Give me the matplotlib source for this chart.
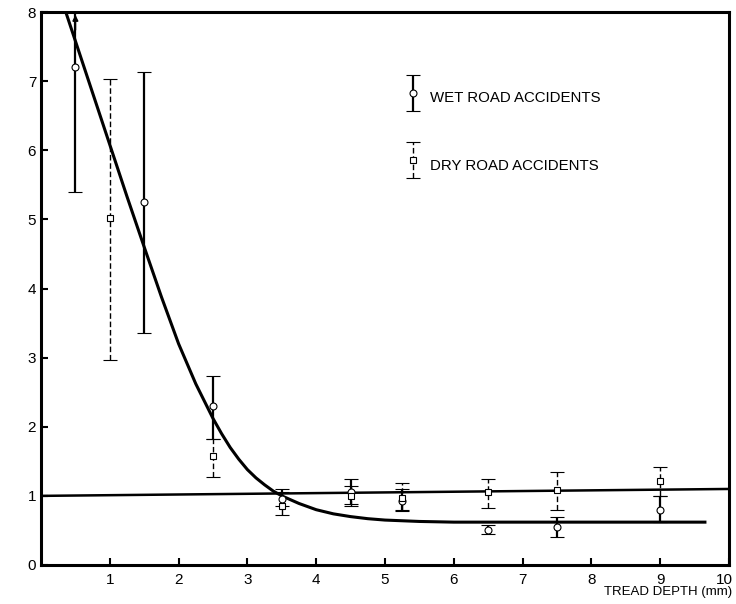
import matplotlib
matplotlib.use("Agg")
import matplotlib.pyplot as plt
from matplotlib.legend_handler import HandlerErrorbar
from matplotlib.transforms import ScaledTranslation

plt.rcParams['font.family'] = ['Liberation Sans', 'DejaVu Sans']

# Wet road accidents (circles, solid bars)
wet_x = [0.5, 1.5, 2.5, 3.5, 4.5, 5.25, 6.5, 7.5, 9.0]
wet_y = [7.2, 5.25, 2.3, 0.95, 1.05, 0.92, 0.5, 0.55, 0.8]
wet_lo = [5.4, 3.35, 1.83, 0.85, 0.88, 0.78, 0.45, 0.4, 0.62]
wet_hi = [8.0, 7.13, 2.74, 1.1, 1.25, 1.1, 0.58, 0.7, 1.0]

# Dry road accidents (squares, dashed bars)
dry_x = [1.0, 2.5, 3.5, 4.5, 5.25, 6.5, 7.5, 9.0]
dry_y = [5.02, 1.58, 0.85, 1.0, 0.97, 1.05, 1.08, 1.22]
dry_lo = [2.97, 1.27, 0.72, 0.85, 0.8, 0.83, 0.8, 1.0]
dry_hi = [7.03, 1.83, 1.05, 1.15, 1.18, 1.25, 1.35, 1.42]

# Fitted wet curve
curve_x = [0.36, 0.5, 0.75, 1.0, 1.25, 1.5, 1.75, 2.0, 2.25, 2.5, 2.625, 2.75, 2.875,
           3.0, 3.125, 3.25, 3.375, 3.5, 3.75, 4.0, 4.25, 4.5, 4.75, 5.0, 5.5, 6.0,
           7.0, 8.0, 9.0, 9.65]
curve_y = [8.0, 7.58, 6.83, 6.08, 5.33, 4.6, 3.88, 3.2, 2.62, 2.12, 1.90, 1.70, 1.53,
           1.38, 1.26, 1.16, 1.07, 1.0, 0.89, 0.8, 0.74, 0.70, 0.67, 0.65, 0.63, 0.62,
           0.62, 0.62, 0.62, 0.62]

# Dry (reference) line
ref_x = [0.0, 10.0]
ref_y = [1.0, 1.1]

x_ticks = [1, 2, 3, 4, 5, 6, 7, 8, 9, 10]
y_ticks = [0, 1, 2, 3, 4, 5, 6, 7, 8]

fig = plt.figure(figsize=(7.36, 6.04), dpi=100)
ax = fig.add_axes([41/736, 39/604, 688/736, 553/604])

ax.plot(curve_x, curve_y, color='black', lw=2.2, zorder=3)
ax.plot(ref_x, ref_y, color='black', lw=1.8, zorder=3)

we = [[y - l for y, l in zip(wet_y, wet_lo)], [h - y for y, h in zip(wet_y, wet_hi)]]
de = [[y - l for y, l in zip(dry_y, dry_lo)], [h - y for y, h in zip(dry_y, dry_hi)]]

w = ax.errorbar(wet_x, wet_y, yerr=we, fmt='o', ms=5, mfc='white', mec='black',
                mew=0.8, ecolor='black', elinewidth=1.6, capsize=5, capthick=1.6,
                label='WET ROAD ACCIDENTS', zorder=4)
d = ax.errorbar(dry_x, dry_y, yerr=de, fmt='s', ms=5, mfc='white', mec='black',
                mew=0.8, ecolor='black', elinewidth=1.0, capsize=5, capthick=1.6,
                label='DRY ROAD ACCIDENTS', zorder=4)
d[2][0].set_linestyle((0, (4, 2)))

# Arrow at top of first wet bar
ax.annotate('', xy=(wet_x[0], wet_hi[0]), xytext=(wet_x[0], wet_hi[0] - 0.3),
            arrowprops=dict(arrowstyle='-|>', color='black', lw=1.2,
                            mutation_scale=8), zorder=5)

ax.set_xlim(0, 10)
ax.set_ylim(0, 8)
ax.set_xticks(x_ticks)
ax.set_yticks(y_ticks)
ax.tick_params(direction='in', length=5, width=1.5, labelsize=11)
ax.tick_params(axis='x', pad=6)
for s in ax.spines.values():
    s.set_linewidth(2.2)

# shift the last x tick label slightly left so it stays inside the figure
last = ax.get_xticklabels()[-1]
last.set_transform(last.get_transform() + ScaledTranslation(-5/100, 0, fig.dpi_scale_trans))

ax.text(1.005, -0.049, 'TREAD DEPTH (mm)', transform=ax.transAxes,
        ha='right', va='center', fontsize=9.5)

leg = ax.legend(loc='upper left', bbox_to_anchor=(0.515, 0.895), frameon=False,
                handlelength=0.6, handleheight=2.5, handletextpad=0.83,
                labelspacing=2.63, fontsize=10.8,
                handler_map={type(w): HandlerErrorbar(xerr_size=0.5, yerr_size=1.2)})

fig.savefig('out.png', dpi=100)
